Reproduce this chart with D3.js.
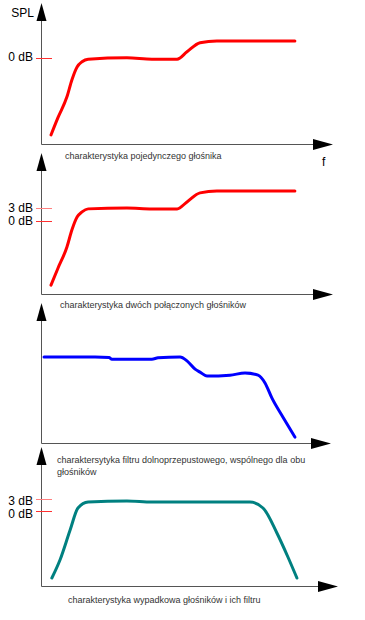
<!DOCTYPE html>
<html>
<head>
<meta charset="utf-8">
<script src="https://cdn.jsdelivr.net/npm/d3@7"></script>
<style>
  body { margin: 0; background: #fff; }
  text { font-family: Arial, "Liberation Sans", sans-serif; }
</style>
</head>
<body>
<svg id="chart" width="365" height="620"></svg>
<script>
// relative frequency (0..100) and level in dB
const freqSingle = [3.1, 5.5, 8.6, 10.3, 12.1, 13.8, 15.9, 29.3, 37.9, 46.6, 50.0, 54.5, 60.3, 87.2];
const splSingle  = [-17.7, -13.7, -8.9, -5.0, -2.0, -0.8, -0.2, 0.1, -0.2, -0.2, 1.5, 3.6, 4.0, 4.0];

const freqPair = [3.1, 5.5, 8.6, 10.3, 12.1, 13.8, 15.9, 29.3, 37.9, 46.6, 50.0, 54.5, 60.3, 87.2];
const splPair  = [-14.8, -10.9, -6.0, -2.1, 0.9, 2.1, 2.8, 3.0, 2.8, 2.8, 4.4, 6.5, 6.9, 6.9];

const freqFilter = [0.7, 18.3, 23.1, 24.1, 37.9, 40.0, 47.6, 50.0, 52.8, 54.5, 56.9, 64.8, 70.0, 74.5, 76.9, 79.3, 83.1, 87.2];
const splFilter  = [0, 0, -0.1, -0.5, -0.5, -0.2, 0, -0.9, -2.8, -3.5, -4.4, -4.2, -3.7, -4.2, -6.0, -9.5, -13.9, -18.5];

const freqTotal = [3.4, 6.2, 9.7, 12.4, 15.9, 29.3, 37.9, 62.4, 71.7, 76.2, 81.0, 84.8, 87.9];
const splTotal  = [-16.75, -12.25, -4.75, 0.75, 2.25, 2.5, 2.25, 2.25, 2.25, 0.75, -5.5, -11.5, -16.75];

const tickValues = [0, 3];
const tickLabels = ["0 dB", "3 dB"];

const captions = [
  ["charakterystyka pojedynczego głośnika"],
  ["charakterystyka dwóch połączonych głośników"],
  ["charaktersytyka filtru dolnoprzepustowego, wspólnego dla obu", "głośników"],
  ["charakterystyka wypadkowa głośników i ich filtru"]
];

// layout of the four stacked panels
const panels = [
  { freq: freqSingle, spl: splSingle, color: "#ff0000", ticks: [0], labelDy: [2], tip: 3, axis: 144, zero: 58.3, dbPx: 4.33, xTip: 333, capX: 65, capY: 159 },
  { freq: freqPair, spl: splPair, color: "#ff0000", ticks: [0, 3], labelDy: [3.5, 3], tip: 153, axis: 294, zero: 221, dbPx: 4.33, xTip: 333, capX: 60, capY: 308 },
  { freq: freqFilter, spl: splFilter, color: "#0000ff", ticks: [], labelDy: [], tip: 303, axis: 443, zero: 357, dbPx: 4.33, xTip: 331, capX: 57, capY: 463 },
  { freq: freqTotal, spl: splTotal, color: "#008080", ticks: [0, 3], labelDy: [6, 5], tip: 447, axis: 586, zero: 511, dbPx: 4, xTip: 338, capX: 68, capY: 603 }
];

const svg = d3.select("#chart");
const axisX = 41.5;
const x = d3.scaleLinear().domain([0, 100]).range([42, 332]);

panels.forEach((p, i) => {
  const y = d3.scaleLinear().domain([0, 3]).range([p.zero, p.zero - 3 * p.dbPx]);
  const g = svg.append("g");

  // axes
  g.append("line")
    .attr("x1", axisX).attr("x2", axisX)
    .attr("y1", p.tip + 10).attr("y2", p.axis + 0.5)
    .attr("stroke", "#555").attr("stroke-width", 1);
  g.append("line")
    .attr("x1", axisX).attr("x2", p.xTip - 10)
    .attr("y1", p.axis + 0.5).attr("y2", p.axis + 0.5)
    .attr("stroke", "#555").attr("stroke-width", 1);

  g.append("path")
    .attr("d", `M${axisX},${p.tip} L${axisX + 5},${p.tip + 18} L${axisX - 5},${p.tip + 18} Z`)
    .attr("fill", "#000");
  g.append("path")
    .attr("d", `M${p.xTip},${p.axis + 0.5} L${p.xTip - 20},${p.axis - 5} L${p.xTip - 20},${p.axis + 6} Z`)
    .attr("fill", "#000");

  // dB ticks
  p.ticks.forEach((v, k) => {
    const ty = Math.round(y(v)) + 0.5;
    g.append("line")
      .attr("x1", 36).attr("x2", 52)
      .attr("y1", ty).attr("y2", ty)
      .attr("stroke", v === 0 ? "#ff3030" : "#ff8080").attr("stroke-width", 1);
    g.append("text")
      .attr("x", 33).attr("y", ty + p.labelDy[k])
      .attr("text-anchor", "end")
      .attr("font-size", 12)
      .attr("fill", "#000")
      .text(tickLabels[tickValues.indexOf(v)]);
  });

  // curve
  const line = d3.line()
    .x(d => x(d[0]))
    .y(d => y(d[1]))
    .curve(d3.curveMonotoneX);
  g.append("path")
    .datum(d3.zip(p.freq, p.spl))
    .attr("d", line)
    .attr("fill", "none")
    .attr("stroke", p.color)
    .attr("stroke-width", 3)
    .attr("stroke-linecap", "round")
    .attr("stroke-linejoin", "round");

  // caption
  captions[i].forEach((c, k) => {
    g.append("text")
      .attr("x", p.capX).attr("y", p.capY + k * 12)
      .attr("font-size", 9)
      .attr("fill", "#333")
      .text(c);
  });
});

svg.append("text")
  .attr("x", 34).attr("y", 17)
  .attr("text-anchor", "end")
  .attr("font-size", 12)
  .text("SPL");

svg.append("text")
  .attr("x", 322).attr("y", 166)
  .attr("font-size", 12)
  .text("f");
</script>
</body>
</html>
